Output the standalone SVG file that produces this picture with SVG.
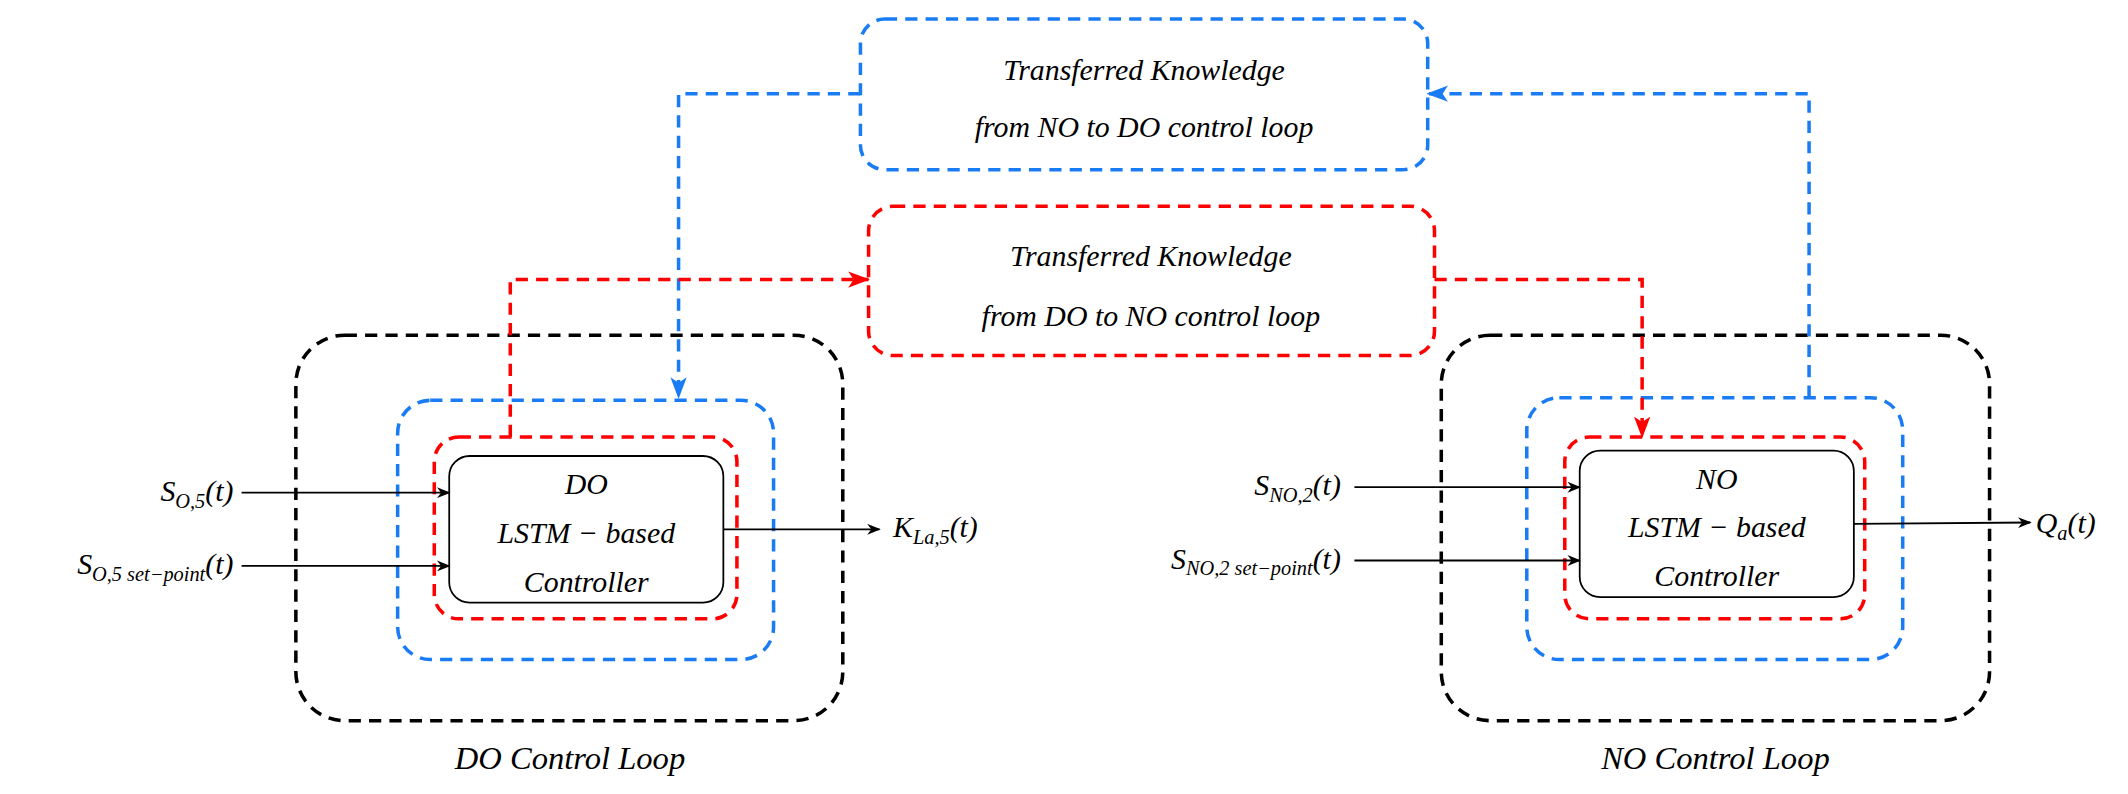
<svg xmlns="http://www.w3.org/2000/svg" width="2128" height="794" viewBox="0 0 2128 794">
<style>
text{font-family:"Liberation Serif",serif;font-style:italic;font-size:22px;fill:#000}
.sub{font-size:15px}
.k{fill:none;stroke:#000;stroke-width:2.6;stroke-dasharray:9 6}
.b{fill:none;stroke:#1a7cf5;stroke-width:2.6;stroke-dasharray:9 6}
.r{fill:none;stroke:#f00;stroke-width:2.6;stroke-dasharray:9 6}
.s{fill:#fff;stroke:#000;stroke-width:1.3}
.ln{fill:none;stroke:#000;stroke-width:1.3}
</style>
<defs>
<marker id="ak" markerWidth="10" markerHeight="8" refX="9" refY="4" orient="auto" markerUnits="userSpaceOnUse"><path d="M0,0 L10,4 L0,8 L3,4z" fill="#000"/></marker>
<marker id="ab" markerWidth="16" markerHeight="12" refX="15" refY="6" orient="auto" markerUnits="userSpaceOnUse"><path d="M0,0 L16,6 L0,12 L4,6z" fill="#1a7cf5"/></marker>
<marker id="ar" markerWidth="16" markerHeight="12" refX="15" refY="6" orient="auto" markerUnits="userSpaceOnUse"><path d="M0,0 L16,6 L0,12 L4,6z" fill="#f00"/></marker>
</defs>
<rect width="2128" height="794" fill="#fff"/>
<g transform="scale(1.35714)">
<g id="kt1"><rect class="b" x="634" y="14" width="418" height="111" rx="18"/>
<text x="843" y="59" text-anchor="middle">Transferred Knowledge</text>
<text x="843" y="101" text-anchor="middle">from NO to DO control loop</text></g>
<g id="kt2"><rect class="r" x="640" y="152" width="417" height="110" rx="18"/>
<text x="848" y="196" text-anchor="middle">Transferred Knowledge</text>
<text x="848" y="240" text-anchor="middle">from DO to NO control loop</text></g>
<g id="doloop"><rect class="k" x="218" y="247" width="403" height="284" rx="36"/>
<rect class="b" x="293" y="295" width="277" height="191" rx="24"/>
<rect class="r" x="320" y="322" width="223" height="134" rx="18"/>
<text x="420" y="567" text-anchor="middle" style="font-size:24px">DO Control Loop</text></g>
<g id="docontroller"><rect class="s" x="331" y="336" width="202" height="108" rx="15"/>
<text x="432" y="364" text-anchor="middle">DO</text>
<text x="432" y="400" text-anchor="middle">LSTM − based</text>
<text x="432" y="436" text-anchor="middle">Controller</text></g>
<g id="noloop"><rect class="k" x="1062" y="247" width="404" height="284" rx="36"/>
<rect class="b" x="1125" y="293" width="277" height="193" rx="24"/>
<rect class="r" x="1153" y="322" width="221" height="134" rx="18"/>
<text x="1264" y="567" text-anchor="middle" style="font-size:24px">NO Control Loop</text></g>
<g id="nocontroller"><rect class="s" x="1164" y="332" width="202" height="108" rx="15"/>
<text x="1265" y="360" text-anchor="middle">NO</text>
<text x="1265" y="396" text-anchor="middle">LSTM − based</text>
<text x="1265" y="432" text-anchor="middle">Controller</text></g>
<g id="labels">
<text x="172" y="369" text-anchor="end">S<tspan class="sub" dy="5">O,5</tspan><tspan dy="-5">(t)</tspan></text>
<text x="172" y="423" text-anchor="end">S<tspan class="sub" dy="5">O,5 set−point</tspan><tspan dy="-5">(t)</tspan></text>
<text x="658" y="396">K<tspan class="sub" dy="5">La,5</tspan><tspan dy="-5">(t)</tspan></text>
<text x="988" y="365" text-anchor="end">S<tspan class="sub" dy="5">NO,2</tspan><tspan dy="-5">(t)</tspan></text>
<text x="988" y="419" text-anchor="end">S<tspan class="sub" dy="5">NO,2 set−point</tspan><tspan dy="-5">(t)</tspan></text>
<text x="1500" y="393">Q<tspan class="sub" dy="5">a</tspan><tspan dy="-5">(t)</tspan></text>
</g>
<g id="connectors">
<path class="ln" d="M178,363 H331" marker-end="url(#ak)"/>
<path class="ln" d="M178,417 H331" marker-end="url(#ak)"/>
<path class="ln" d="M533,390 H648" marker-end="url(#ak)"/>
<path class="ln" d="M998,359 H1164" marker-end="url(#ak)"/>
<path class="ln" d="M998,413 H1164" marker-end="url(#ak)"/>
<path class="ln" d="M1366,386 L1496,385" marker-end="url(#ak)"/>
<path class="b" d="M634,69 H500 V293" marker-end="url(#ab)"/>
<path class="b" d="M1333,293 V69 H1052" marker-end="url(#ab)"/>
<path class="r" d="M376,322 V206 H640" marker-end="url(#ar)"/>
<path class="r" d="M1057,206 H1210 V322" marker-end="url(#ar)"/>
</g>
</g>
</svg>
